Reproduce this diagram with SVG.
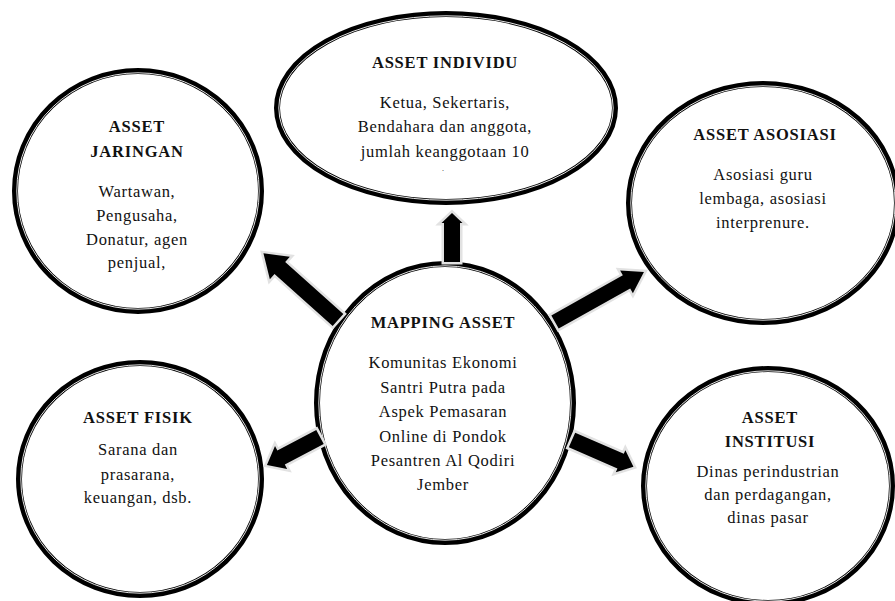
<svg xmlns="http://www.w3.org/2000/svg" width="895" height="601" viewBox="0 0 895 601">
<style>
.bg{fill:#fff}
.ring{fill:#fff;stroke:#000;stroke-width:6}
.gap{fill:none;stroke:#fff;stroke-width:0.9}
.t{font-family:"Liberation Serif","Times New Roman",serif;font-size:16.5px;font-weight:bold;text-anchor:middle;letter-spacing:0.8px;fill:#111}
.b{font-family:"Liberation Serif","Times New Roman",serif;font-size:16.5px;text-anchor:middle;letter-spacing:0.7px;fill:#111}
.dot{font-family:"Liberation Serif","Times New Roman",serif;font-size:8px;text-anchor:middle;fill:#111}
.arr{fill:#000;stroke:#e2e2e2;stroke-width:5;stroke-linejoin:miter;paint-order:stroke}
</style>
<rect class="bg" x="0" y="0" width="895" height="601"/>

<g id="node-individu">
<ellipse class="ring" cx="446" cy="108" rx="169" ry="94"/>
<ellipse class="gap" cx="446" cy="108" rx="167.2" ry="92.2"/>
<text class="t" x="445" y="68">ASSET INDIVIDU</text>
<text class="b" x="445" y="108">Ketua, Sekertaris,</text>
<text class="b" x="445" y="132">Bendahara dan anggota,</text>
<text class="b" x="445" y="157">jumlah keanggotaan 10</text>
<text class="dot" x="443" y="171">.</text>
</g>

<g id="node-jaringan">
<ellipse class="ring" cx="138" cy="191" rx="123" ry="120"/>
<ellipse class="gap" cx="138" cy="191" rx="121.2" ry="118.2"/>
<text class="t" x="137" y="132">ASSET</text>
<text class="t" x="137" y="157">JARINGAN</text>
<text class="b" x="137" y="197">Wartawan,</text>
<text class="b" x="137" y="221">Pengusaha,</text>
<text class="b" x="137" y="245">Donatur, agen</text>
<text class="b" x="137" y="268">penjual,</text>
</g>

<g id="node-asosiasi">
<ellipse class="ring" cx="763" cy="203" rx="134" ry="119"/>
<ellipse class="gap" cx="763" cy="203" rx="132.2" ry="117.2"/>
<text class="t" x="765" y="140">ASSET ASOSIASI</text>
<text class="b" x="763" y="180">Asosiasi guru</text>
<text class="b" x="763" y="204">lembaga, asosiasi</text>
<text class="b" x="763" y="228">interprenure.</text>
</g>

<g id="node-fisik">
<ellipse class="ring" cx="140" cy="479" rx="121" ry="116"/>
<ellipse class="gap" cx="140" cy="479" rx="119.2" ry="114.2"/>
<text class="t" x="138" y="423">ASSET FISIK</text>
<text class="b" x="138" y="455">Sarana dan</text>
<text class="b" x="138" y="480">prasarana,</text>
<text class="b" x="138" y="503">keuangan, dsb.</text>
</g>

<g id="node-institusi">
<ellipse class="ring" cx="768" cy="486" rx="124" ry="117"/>
<ellipse class="gap" cx="768" cy="486" rx="122.2" ry="115.2"/>
<text class="t" x="770" y="423">ASSET</text>
<text class="t" x="770" y="447">INSTITUSI</text>
<text class="b" x="768" y="477">Dinas perindustrian</text>
<text class="b" x="768" y="500">dan perdagangan,</text>
<text class="b" x="768" y="523">dinas pasar</text>
</g>

<g id="node-mapping">
<ellipse class="ring" cx="445" cy="403" rx="128" ry="139"/>
<ellipse class="gap" cx="445" cy="403" rx="126.2" ry="137.2"/>
<text class="t" x="443" y="328">MAPPING ASSET</text>
<text class="b" x="443" y="368">Komunitas Ekonomi</text>
<text class="b" x="443" y="393">Santri Putra pada</text>
<text class="b" x="443" y="417">Aspek Pemasaran</text>
<text class="b" x="443" y="442">Online di Pondok</text>
<text class="b" x="443" y="466">Pesantren Al Qodiri</text>
<text class="b" x="443" y="490">Jember</text>
</g>

<g id="connectors">
<polygon class="arr" transform="translate(452,262) rotate(-90)" points="0,-8 39,-8 39,-10.5 49,0 39,10.5 39,8 0,8"/>
<polygon class="arr" transform="translate(338,320) rotate(-138.2)" points="0,-8 78,-8 78,-15 100,0 78,15 78,8 0,8"/>
<polygon class="arr" transform="translate(555,322) rotate(-29.3)" points="0,-7.5 82,-7.5 82,-13 102,0 82,13 82,7.5 0,7.5"/>
<polygon class="arr" transform="translate(320,437) rotate(152.2)" points="0,-8 44,-8 44,-13 60,0 44,13 44,8 0,8"/>
<polygon class="arr" transform="translate(572,440) rotate(23.5)" points="0,-8 53,-8 53,-12 67,0 53,12 53,8 0,8"/>
</g>
</svg>
